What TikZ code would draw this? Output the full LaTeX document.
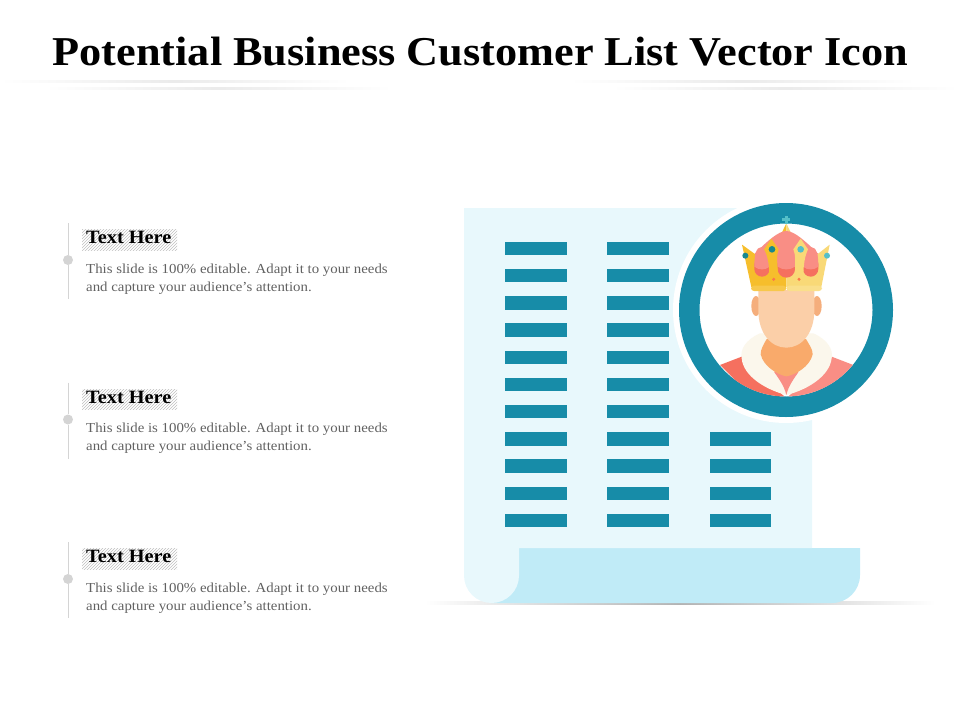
\documentclass[tikz,border=0pt]{standalone}
\usepackage{fontspec}
\setmainfont[FakeStretch=1.08]{Liberation Serif}
\usepackage{xcolor}
\usetikzlibrary{patterns}
\definecolor{barteal}{HTML}{178CA8}
\definecolor{paperpale}{HTML}{E8F8FC}
\definecolor{rollblue}{HTML}{C0EBF7}
\definecolor{crowngold}{HTML}{F6BE2C}
\definecolor{crownpale}{HTML}{F9D977}
\definecolor{lobepink}{HTML}{F98E85}
\definecolor{lobered}{HTML}{F5705F}
\definecolor{skinface}{HTML}{FBCFA8}
\definecolor{skinear}{HTML}{F5AE7C}
\definecolor{neckorange}{HTML}{F9AA6B}
\definecolor{furcream}{HTML}{FBF7EC}
\definecolor{gemteal}{HTML}{17888F}
\definecolor{gemlight}{HTML}{55BFC8}
\tikzset{
    listbar/.style={fill=barteal,draw=none,minimum width=62pt,minimum height=13.5pt,inner sep=0pt},
    headtext/.style={font=\fontsize{18.8}{22}\selectfont\bfseries,text=black,inner sep=0pt,anchor=west},
    bodytext/.style={font=\fontsize{13.75}{18.2}\selectfont,text=black!62,inner sep=0pt,anchor=north west,align=left},
    stemdot/.style={circle,fill=black!17,draw=none,minimum size=10pt,inner sep=0pt},
    stemline/.style={draw=black!17,line width=1pt},
}
\begin{document}
\begin{tikzpicture}[x=1pt,y=-1pt]
    \useasboundingbox (0,0) rectangle (960,720);

    % title
    \node[font=\fontsize{41}{46}\selectfont\bfseries,inner sep=0pt] (title) at (480.5,52) {Potential Business Customer List Vector Icon};
    \foreach \xa/\xb/\xc/\ya in {0/175/350/80.5,45/218/392/87.5,570/742/915/80.5,612/785/958/87.5}{
        \shade[left color=white,right color=black!8] (\xa,\ya) rectangle (\xb,\ya+1.5);
        \shade[left color=black!8,right color=white] (\xb,\ya) rectangle (\xc,\ya+1.5);
    }

    % three text blocks
    \foreach \name/\yoff in {one/0,two/159.5,three/319}{
        \begin{scope}[yshift=-\yoff pt]
            \fill[pattern=north east lines,pattern color=black!25] (82,229.5) rectangle (177,250);
            \node[headtext] (head\name) at (86,237.5) {Text Here};
            \node[bodytext] (body\name) at (86,263.5) {This slide is 100\% editable. Adapt it to your needs\\and capture your audience's attention.};
            \coordinate (top\name) at (68,223);
            \coordinate (bot\name) at (68,299);
            \node[stemdot] (dot\name) at (68,260) {};
            \draw[stemline] (top\name) -- (dot\name) -- (bot\name);
        \end{scope}
    }

    % shadow under the sheet
    \shade[left color=white,right color=black!30] (425,601) rectangle (680,604.5);
    \shade[left color=black!30,right color=white] (680,601) rectangle (935,604.5);

    % sheet and its roll
    \fill[rollblue] (491,548) -- (860,548) -- (860,575) arc[start angle=0,end angle=90,radius=28] -- (491,603) -- cycle;
    \fill[paperpale] (464,208) -- (812,208) -- (812,548) -- (519,548) -- (519,575.5)
        arc[start angle=0,delta angle=180,radius=27.5] -- cycle;

    % rows of bars
    \foreach \i in {0,...,10}{
        \node[listbar] (barA\i) at (536,248.5+27.2*\i) {};
        \node[listbar] (barB\i) at (638,248.5+27.2*\i) {};
    }
    \foreach \i in {7,...,10}{
        \node[listbar,minimum width=61pt] (barC\i) at (740.5,248.5+27.2*\i) {};
    }

    % badge
    \fill[white] (786,310) circle[radius=113];
    \fill[barteal,even odd rule] (786,310) circle[radius=107] (786,310) circle[radius=86.5];
    \begin{scope}[shift={(670,195)},x=1pt/3,y=-1pt/3]
        \begin{scope}
            \clip (348,345) circle[radius=259.5];
            % shoulders
            \fill[lobered] (150,510) -- (215,485) -- (349,610) -- (260,620) -- cycle;
            \fill[lobepink] (550,510) -- (485,485) -- (349,610) -- (440,620) -- cycle;
            % fur collar
            \fill[furcream] (270,415) .. controls (225,435) and (210,465) .. (215,490)
                .. controls (220,545) and (290,585) .. (349,600)
                .. controls (410,585) and (478,545) .. (485,490)
                .. controls (490,465) and (475,435) .. (430,415) -- cycle;
            \fill[lobepink] (312,530) .. controls (325,550) and (342,570) .. (349,600)
                .. controls (356,570) and (373,550) .. (386,530) -- cycle;
            % neck
            \fill[neckorange] (290,432) .. controls (280,450) and (272,462) .. (272,478)
                .. controls (280,515) and (325,540) .. (349,544)
                .. controls (375,540) and (420,515) .. (428,478)
                .. controls (428,462) and (418,450) .. (408,432) -- cycle;
        \end{scope}
        % ears and face
        \fill[skinear] (258,333) ellipse[x radius=14,y radius=30];
        \fill[skinear] (441,333) ellipse[x radius=14,y radius=30];
        \fill[skinface] (265,285) -- (433,285) -- (433,345)
            .. controls (433,415) and (395,458) .. (349,458)
            .. controls (303,458) and (265,415) .. (265,345) -- cycle;
        % crown
        \fill[crowngold] (349,85) -- (336,112) -- (349,112) -- cycle;
        \fill[crownpale] (349,85) -- (362,112) -- (349,112) -- cycle;
        \fill[lobepink] (254,240) -- (254,176) .. controls (290,140) and (325,108) .. (349,108)
            .. controls (373,108) and (408,140) .. (444,176) -- (444,240) -- cycle;
        \fill[crowngold] (216,149) -- (256,178) -- (256,215) -- (349,215) -- (349,276) -- (244,276) -- cycle;
        \fill[crownpale] (479,149) -- (442,178) -- (442,215) -- (349,215) -- (349,276) -- (454,276) -- cycle;
        % lobes
        \foreach \lobex/\lobehw/\lobetop in {276/23/156,349/26/140,422/23/156}{
            \fill[lobered] (\lobex-\lobehw,205) -- (\lobex+\lobehw,205) -- (\lobex+\lobehw,222)
                arc[start angle=0,delta angle=180,radius=\lobehw] -- cycle;
            \fill[lobepink] (\lobex-\lobehw,215) .. controls (\lobex-\lobehw,178) and (\lobex-18,\lobetop) .. (\lobex,\lobetop)
                .. controls (\lobex+18,\lobetop) and (\lobex+\lobehw,178) .. (\lobex+\lobehw,215)
                .. controls (\lobex+10,226) and (\lobex-10,226) .. (\lobex-\lobehw,215) -- cycle;
        }
        % arches
        \fill[crowngold] (304,131) -- (282,163) .. controls (292,180) and (298,205) .. (298,245)
            -- (323,245) .. controls (323,205) and (318,180) .. (326,163) -- cycle;
        \fill[crownpale] (392,131) -- (370,163) .. controls (378,180) and (375,205) .. (375,245)
            -- (400,245) .. controls (400,205) and (406,180) .. (414,163) -- cycle;
        % band
        \fill[crowngold!85!white,rounded corners=3pt] (243,272) rectangle (349,288);
        \fill[crownpale!85!white,rounded corners=3pt] (349,272) rectangle (456,288);
        % gems
        \fill[neckorange!70!red] (311,253) circle[radius=5];
        \fill[neckorange!70!red] (387,253) circle[radius=5];
        \fill[gemteal] (226,182) circle[radius=9];
        \fill[gemteal] (306,163) circle[radius=10];
        \fill[gemlight] (392,163) circle[radius=10];
        \fill[gemlight] (471,182) circle[radius=9];
        % small cross
        \fill[gemlight] (345,62) rectangle (353,86);
        \fill[gemlight] (337,70) rectangle (361,77);
    \end{scope}
\end{tikzpicture}
\end{document}
